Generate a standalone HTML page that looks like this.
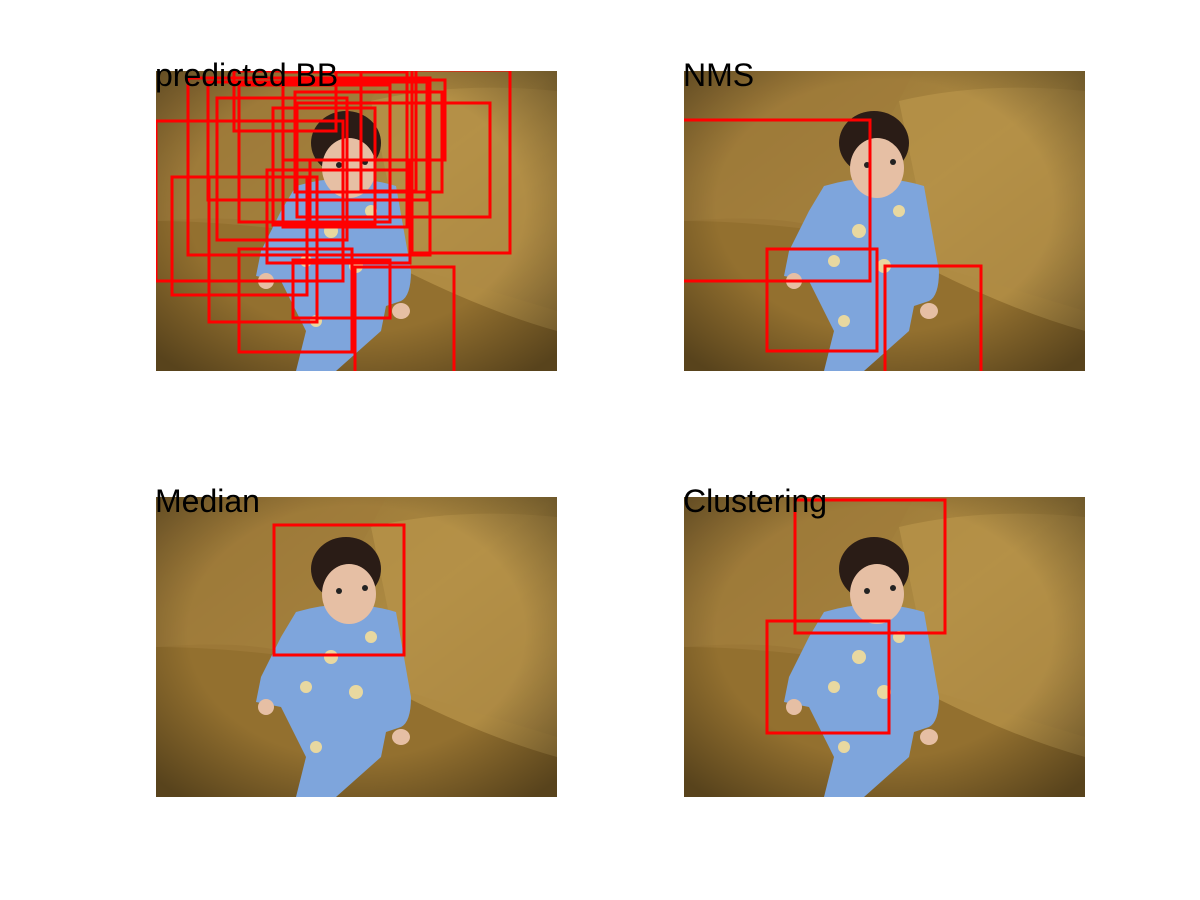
<!DOCTYPE html>
<html><head><meta charset="utf-8"><style>
html,body{margin:0;padding:0;background:#fff;width:1200px;height:900px;overflow:hidden}
svg{display:block}
</style></head><body>
<svg width="1200" height="900" viewBox="0 0 1200 900" xmlns="http://www.w3.org/2000/svg">
<defs>
<linearGradient id="couch" x1="0" y1="0" x2="1" y2="1">
<stop offset="0" stop-color="#8e6c30"/><stop offset="0.5" stop-color="#ad8a42"/><stop offset="1" stop-color="#6e5024"/>
</linearGradient>
<radialGradient id="vig" cx="0.5" cy="0.45" r="0.7">
<stop offset="0.6" stop-color="#000" stop-opacity="0"/><stop offset="1" stop-color="#000" stop-opacity="0.4"/>
</radialGradient>
<clipPath id="clip"><rect x="0" y="0" width="401" height="300"/></clipPath>
<g id="photo">
<rect x="0" y="0" width="401" height="300" fill="url(#couch)"/>
<path d="M0 150 Q120 140 170 170 L401 240 L401 300 L0 300Z" fill="#93702f"/>
<path d="M215 30 Q300 10 401 20 L401 260 Q330 240 250 200Z" fill="#b69248" opacity="0.8"/>
<path d="M0 0 L230 0 Q200 60 140 160 Q60 150 0 150Z" fill="#a07c3a" opacity="0.7"/>
<rect x="0" y="0" width="401" height="300" fill="url(#vig)"/>
<path d="M140 115 Q190 100 240 115 L255 200 Q255 225 245 230 L230 235 L225 260 L180 300 L140 300 L150 260 L140 240 L125 210 L100 205 L105 180 L125 140Z" fill="#7ea5dc"/>
<circle cx="150" cy="190" r="6" fill="#e8d8a0"/><circle cx="200" cy="195" r="7" fill="#e8d8a0"/><circle cx="175" cy="160" r="7" fill="#e8d8a0"/><circle cx="215" cy="140" r="6" fill="#e8d8a0"/><circle cx="160" cy="250" r="6" fill="#e8d8a0"/>
<ellipse cx="190" cy="72" rx="35" ry="32" fill="#2a1c16"/>
<ellipse cx="193" cy="97" rx="27" ry="30" fill="#e6bfa4"/>
<circle cx="183" cy="94" r="3" fill="#222"/><circle cx="209" cy="91" r="3" fill="#222"/>
<ellipse cx="110" cy="210" rx="8" ry="8" fill="#e6bfa4"/><ellipse cx="245" cy="240" rx="9" ry="8" fill="#e6bfa4"/>
</g>
</defs>

<script>
var predictedBoxes = [
[0,50,187,210],[16,106,151,224],[256,-1,354,182],[52,11,271,129],[61,27,191,169],
[83,14,234,151],[117,37,219,154],[111,99,254,192],[53,106,161,251],[83,178,196,281],
[137,189,234,247],[199,196,298,302],[141,32,334,146],[127,1,251,156],[139,21,286,121],
[154,89,254,156],[127,9,289,89],[32,7,274,184],[205,-1,260,120],[78,0,180,60]
];
var nmsBoxes = [[-5,49,186,210],[83,178,193,280],[201,195,297,305]];
var medianBoxes = [[118,28,248,158]];
var clusterBoxes = [[111,3,261,136],[83,124,205,236]];
</script>

<g id="p1" transform="translate(156,71)"><use href="#photo"/><g clip-path="url(#clip)" class="boxes"></g></g>
<g id="p2" transform="translate(684,71)"><use href="#photo"/><g clip-path="url(#clip)" class="boxes"></g></g>
<g id="p3" transform="translate(156,497)"><use href="#photo"/><g clip-path="url(#clip)" class="boxes"></g></g>
<g id="p4" transform="translate(684,497)"><use href="#photo"/><g clip-path="url(#clip)" class="boxes"></g></g>

<g font-family="Liberation Sans, sans-serif" font-size="32" fill="#000">
<text x="155" y="86">predicted BB</text>
<text x="683" y="86">NMS</text>
<text x="155" y="512">Median</text>
<text x="683" y="512">Clustering</text>
</g>
</svg>
<script>
function draw(id, boxes){
  var g = document.querySelector('#'+id+' .boxes');
  boxes.forEach(function(b){
    var r = document.createElementNS('http://www.w3.org/2000/svg','rect');
    r.setAttribute('x', b[0]); r.setAttribute('y', b[1]);
    r.setAttribute('width', b[2]-b[0]); r.setAttribute('height', b[3]-b[1]);
    r.setAttribute('fill','none'); r.setAttribute('stroke','#ff0000'); r.setAttribute('stroke-width','3');
    
    
    g.appendChild(r);
  });
}
draw('p1', predictedBoxes);
draw('p2', nmsBoxes);
draw('p3', medianBoxes);
draw('p4', clusterBoxes);
</script>
</body></html>
